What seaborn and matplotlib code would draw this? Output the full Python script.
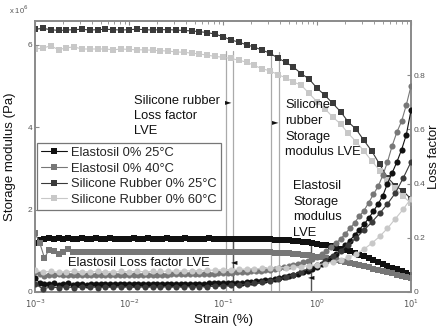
import matplotlib
matplotlib.use("Agg")
import matplotlib.pyplot as plt
import seaborn as sns

sns.set_theme(style="white")
plt.rcParams['font.family'] = ['Liberation Sans', 'DejaVu Sans']

# ---- strain grids (typed mantissas per decade) ----
MANT20 = [1.00, 1.12, 1.26, 1.41, 1.58, 1.78, 2.00, 2.24, 2.51, 2.82,
          3.16, 3.55, 3.98, 4.47, 5.01, 5.62, 6.31, 7.08, 7.94, 8.91]
MANT12 = [1.00, 1.21, 1.47, 1.78, 2.15, 2.61, 3.16, 3.83, 4.64, 5.62, 6.81, 8.25]
DECADES = [-3, -2, -1, 0]
strain_e = [m * 10.0 ** d for d in DECADES for m in MANT20] + [10.0]
strain_s = [m * 10.0 ** d for d in DECADES for m in MANT12] + [10.0]

# ---- storage modulus (x 1e6 Pa) ----
e25_G = [1.19, 1.27, 1.29, 1.30, 1.29, 1.30, 1.29, 1.30, 1.29, 1.29, 1.30, 1.29, 1.29, 1.30, 1.29, 1.29, 1.30, 1.29, 1.29, 1.29,
         1.29, 1.30, 1.29, 1.29, 1.30, 1.29, 1.29, 1.29, 1.30, 1.29, 1.29, 1.29, 1.30, 1.29, 1.29, 1.29, 1.29, 1.30, 1.29, 1.29,
         1.29, 1.29, 1.29, 1.29, 1.29, 1.29, 1.28, 1.28, 1.28, 1.28, 1.28, 1.27, 1.27, 1.26, 1.26, 1.25, 1.24, 1.22, 1.21, 1.19,
         1.17, 1.15, 1.13, 1.11, 1.08, 1.05, 1.02, 0.99, 0.95, 0.91, 0.87, 0.82, 0.77, 0.72, 0.68, 0.63, 0.59, 0.55, 0.51, 0.46, 0.41]
e40_G = [1.43, 1.20, 0.83, 1.02, 1.00, 0.92, 0.97, 1.04, 0.98, 0.97, 0.98, 0.97, 0.98, 0.97, 0.97, 0.98, 0.97, 0.97, 0.98, 0.97,
         0.97, 0.98, 0.97, 0.97, 0.97, 0.98, 0.97, 0.97, 0.97, 0.97, 0.98, 0.97, 0.97, 0.97, 0.97, 0.97, 0.97, 0.97, 0.97, 0.97,
         0.97, 0.97, 0.97, 0.97, 0.97, 0.97, 0.96, 0.96, 0.96, 0.96, 0.96, 0.95, 0.95, 0.94, 0.94, 0.93, 0.92, 0.91, 0.90, 0.88,
         0.86, 0.84, 0.82, 0.80, 0.78, 0.76, 0.73, 0.71, 0.68, 0.65, 0.63, 0.60, 0.57, 0.54, 0.51, 0.48, 0.45, 0.42, 0.39, 0.36, 0.33]
s25_G = [6.38, 6.40, 6.37, 6.35, 6.36, 6.37, 6.38, 6.36, 6.37, 6.38, 6.37, 6.36,
         6.37, 6.38, 6.37, 6.36, 6.37, 6.37, 6.36, 6.35, 6.34, 6.32, 6.30, 6.26,
         6.20, 6.12, 6.07, 6.00, 5.95, 5.87, 5.80, 5.68, 5.58, 5.46, 5.30, 5.17,
         4.95, 4.78, 4.58, 4.38, 4.13, 3.95, 3.68, 3.42, 3.10, 2.78, 2.58, 2.45, 2.26]
s60_G = [5.90, 5.92, 5.98, 5.88, 5.93, 5.95, 5.90, 5.90, 5.90, 5.90, 5.88, 5.90,
         5.89, 5.88, 5.88, 5.87, 5.86, 5.85, 5.83, 5.82, 5.80, 5.78, 5.75, 5.72,
         5.70, 5.67, 5.63, 5.58, 5.50, 5.42, 5.37, 5.28, 5.20, 5.10, 5.02, 4.82,
         4.62, 4.45, 4.25, 4.08, 3.85, 3.65, 3.42, 3.18, 2.95, 2.72, 2.52, 2.33, 2.15]

# ---- loss factor ----
e25_LF = [0.050, 0.035, 0.030, 0.028, 0.032, 0.027, 0.030, 0.033, 0.026, 0.030, 0.029, 0.027, 0.031, 0.028, 0.030, 0.029, 0.031, 0.030, 0.029, 0.030,
          0.030, 0.031, 0.030, 0.029, 0.030, 0.031, 0.030, 0.030, 0.031, 0.030, 0.030, 0.031, 0.031, 0.030, 0.031, 0.031, 0.031, 0.032, 0.032, 0.032,
          0.032, 0.033, 0.033, 0.034, 0.035, 0.036, 0.037, 0.039, 0.041, 0.043, 0.045, 0.048, 0.052, 0.056, 0.060, 0.064, 0.068, 0.072, 0.078, 0.084,
          0.092, 0.102, 0.114, 0.126, 0.140, 0.155, 0.172, 0.190, 0.210, 0.230, 0.250, 0.272, 0.298, 0.325, 0.355, 0.400, 0.440, 0.480, 0.525, 0.580, 0.670]
e40_LF = [0.075, 0.066, 0.060, 0.064, 0.062, 0.065, 0.061, 0.063, 0.064, 0.062, 0.063, 0.064, 0.062, 0.063, 0.064, 0.063, 0.062, 0.064, 0.063, 0.063,
          0.063, 0.064, 0.063, 0.063, 0.064, 0.063, 0.064, 0.064, 0.064, 0.065, 0.065, 0.065, 0.066, 0.066, 0.066, 0.067, 0.067, 0.068, 0.068, 0.069,
          0.069, 0.070, 0.071, 0.072, 0.073, 0.074, 0.076, 0.077, 0.079, 0.081, 0.083, 0.086, 0.089, 0.092, 0.096, 0.100, 0.105, 0.110, 0.116, 0.122,
          0.130, 0.140, 0.150, 0.165, 0.180, 0.195, 0.215, 0.235, 0.255, 0.280, 0.300, 0.330, 0.360, 0.390, 0.430, 0.480, 0.540, 0.590, 0.630, 0.690, 0.760]
s25_LF = [0.030, 0.012, 0.018, 0.016, 0.020, 0.015, 0.018, 0.020, 0.016, 0.018, 0.017, 0.019,
          0.018, 0.017, 0.019, 0.018, 0.018, 0.019, 0.018, 0.019, 0.019, 0.020, 0.020, 0.021,
          0.022, 0.024, 0.026, 0.029, 0.032, 0.036, 0.041, 0.047, 0.055, 0.064, 0.075, 0.088,
          0.100, 0.115, 0.132, 0.152, 0.175, 0.200, 0.228, 0.258, 0.290, 0.325, 0.365, 0.420, 0.480]
s60_LF = [0.080, 0.074, 0.076, 0.073, 0.075, 0.077, 0.074, 0.075, 0.076, 0.075, 0.074, 0.076,
          0.075, 0.076, 0.075, 0.076, 0.076, 0.077, 0.077, 0.078, 0.078, 0.079, 0.080, 0.081,
          0.082, 0.083, 0.084, 0.085, 0.086, 0.087, 0.088, 0.089, 0.090, 0.092, 0.094, 0.097,
          0.100, 0.105, 0.110, 0.118, 0.128, 0.140, 0.158, 0.180, 0.205, 0.235, 0.270, 0.305, 0.345]

LABELS = ["Elastosil 0% 25°C", "Elastosil 0% 40°C", "Silicone Rubber 0% 25°C", "Silicone Rubber 0% 60°C"]
COLORS = ["#111111", "#777777", "#3a3a3a", "#c8c8c8"]
XTICKS = [1e-3, 1e-2, 1e-1, 1e0, 1e1]
XTICKLABELS = ["$10^{-3}$", "$10^{-2}$", "$10^{-1}$", "$10^{0}$", "$10^{1}$"]
LVE_GRAY = [0.108, 0.128, 0.325, 0.395]
LVE_DARK = [0.128, 0.86]

fig = plt.figure(figsize=(4.39, 3.29), dpi=100)
ax = fig.add_axes([35 / 439, 1 - 292 / 329, 376 / 439, 271 / 329])
ax2 = ax.twinx()

ms = 4.0
series_G = [(strain_e, e25_G), (strain_e, e40_G), (strain_s, s25_G), (strain_s, s60_G)]
series_LF = [(strain_e, e25_LF), (strain_e, e40_LF), (strain_s, s25_LF), (strain_s, s60_LF)]

# vertical LVE lines
for i, s in enumerate(LVE_GRAY):
    top = 0.89 if i < 2 else 0.885
    ax.axvline(s, ymin=0, ymax=top, color="#aaaaaa", lw=0.9, zorder=1)
for s, top in zip(LVE_DARK, [0.2, 0.19]):
    ax.axvline(s, ymin=0, ymax=top, color="#555555", lw=1.0, zorder=1)

handles = []
for (x, y), c, lab in zip(series_G, COLORS, LABELS):
    sns.lineplot(x=x, y=y, ax=ax, color=c, marker="s", markersize=ms, markeredgewidth=0,
                 linewidth=0.8, legend=False, zorder=3)
    handles.append(ax.lines[-1])
for (x, y), c in zip(series_LF, COLORS):
    sns.lineplot(x=x, y=y, ax=ax2, color=c, marker="o", markersize=ms + 0.4, markeredgewidth=0,
                 linewidth=0.8, legend=False, zorder=3)

ax.set_xscale("log")
ax.set_xlim(1e-3, 10)
ax.set_ylim(0, 6.58)
ax2.set_ylim(0, 1.0)
ax.set_xticks(XTICKS)
ax.set_xticklabels(XTICKLABELS)
ax.set_yticks([0, 2, 4, 6])
ax.set_yticklabels(["0", "2", "4", "6"])
ax2.set_yticks([0, 0.2, 0.4, 0.6, 0.8])
ax2.set_yticklabels(["0", "0.2", "0.4", "0.6", "0.8"])

spine_c = "#8a8a8a"
for a in (ax, ax2):
    for sp in a.spines.values():
        sp.set_color(spine_c)
        sp.set_linewidth(1.2)
    a.tick_params(direction="in", colors=spine_c, labelcolor="#555555", labelsize=6,
                  length=3, width=0.8, pad=2)
    a.tick_params(which="minor", direction="in", colors=spine_c, length=2, width=0.6)
ax.tick_params(axis="x", which="both", top=True, pad=4)
ax.grid(False)
ax2.grid(False)

ax.set_xlabel("Strain (%)", fontsize=9.5, labelpad=3, color="#111111")
ax.set_ylabel("Storage modulus (Pa)", fontsize=9.5, labelpad=8, color="#111111")
ax2.set_ylabel("Loss factor", fontsize=9.5, labelpad=2, color="#111111")
ax.text(-0.07, 1.025, r"x 10$^6$", transform=ax.transAxes, fontsize=5.5, color="#555555")

def fx(px):
    return (px - 35) / 376.0

def fy(py):
    return (292 - py) / 271.0

FS = 9.3
tk = dict(transform=ax.transAxes, fontsize=FS, color="#111111", va="center", ha="left", zorder=6)
for t, py in [("Silicone rubber", 101), ("Loss factor", 116), ("LVE", 131)]:
    ax2.text(fx(134), fy(py), t, **tk)
for t, py in [("Silicone", 105), ("rubber", 121), ("Storage", 137), ("modulus LVE", 152)]:
    ax2.text(fx(285), fy(py), t, **tk)
for t, py in [("Elastosil", 186), ("Storage", 202), ("modulus", 217), ("LVE", 233)]:
    ax2.text(fx(293), fy(py), t, **tk)
ax2.text(fx(68), fy(263), "Elastosil Loss factor LVE", **tk)

ak = dict(transform=ax.transAxes, fontsize=6, color="#111111", va="center", ha="center",
          family=["DejaVu Sans"], zorder=6)
ax2.text(fx(228), fy(102), "\u25BA", **ak)
ax2.text(fx(275), fy(122), "\u25BA", **ak)
ax2.text(fx(234), fy(262), "\u25C4", **ak)
ax2.text(fx(311), fy(277), "\u25C4", **ak)

leg = ax2.legend(handles, LABELS, loc="upper left", bbox_to_anchor=(fx(37), fy(143)),
                 fontsize=FS, frameon=True, fancybox=False, framealpha=1, edgecolor="#777777",
                 handlelength=2.0, handletextpad=0.35, borderpad=0.3, labelspacing=0.28,
                 borderaxespad=0)
leg.get_frame().set_linewidth(0.9)

fig.savefig("out.png", dpi=100)
